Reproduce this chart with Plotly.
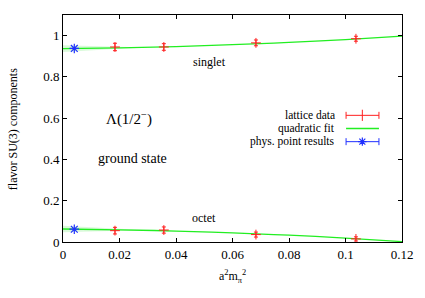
import plotly.graph_objects as go

# lattice data
lat_x = [0.0184, 0.0357, 0.0683, 0.1037]
sing_y = [0.945, 0.945, 0.965, 0.985]
sing_err = [0.018, 0.016, 0.014, 0.012]
oct_y = [0.055, 0.058, 0.036, 0.015]
oct_err = [0.016, 0.015, 0.012, 0.010]

# physical point results
phys_x = [0.0040]
phys_sing = [0.938]
phys_oct = [0.062]

# quadratic fit
fit_x = [0.0, 0.02, 0.04, 0.06, 0.08, 0.10, 0.12]
fit_sing = [0.937, 0.941, 0.947, 0.956, 0.967, 0.981, 0.998]
fit_oct = [0.063, 0.059, 0.053, 0.044, 0.033, 0.019, 0.002]

# fit uncertainty band near the physical point
band_x = [0.0, 0.01, 0.02, 0.03]
band_w = [0.016, 0.010, 0.005, 0.0]

SERIF = "Times New Roman, serif"
RED = "#ff2020"
GREEN = "#22ee22"
BLUE = "#2030ff"

fig = go.Figure()

for fy in (fit_sing, fit_oct):
    by = [fy[0] + (fy[1] - fy[0]) * bx / 0.02 for bx in band_x]
    up = [b + w for b, w in zip(by, band_w)]
    lo = [b - w for b, w in zip(by, band_w)]
    fig.add_trace(go.Scatter(x=band_x + band_x[::-1], y=up + lo[::-1], fill="toself",
                             fillcolor="rgba(150,240,150,0.35)", line=dict(width=0),
                             mode="lines", showlegend=False, hoverinfo="skip"))
    fig.add_trace(go.Scatter(x=fit_x, y=fy, mode="lines", line=dict(color=GREEN, width=1.3, shape="spline"),
                             showlegend=False))

for ly, le in ((sing_y, sing_err), (oct_y, oct_err)):
    fig.add_trace(go.Scatter(x=lat_x, y=ly, mode="markers",
                             marker=dict(symbol="cross-thin", size=7, color=RED, line=dict(color=RED, width=1)),
                             error_y=dict(type="data", array=le, color=RED, thickness=1, width=2),
                             showlegend=False))

for py in (phys_sing, phys_oct):
    fig.add_trace(go.Scatter(x=phys_x, y=py, mode="markers",
                             marker=dict(symbol="asterisk-open", size=8, color=BLUE, line=dict(color=BLUE, width=1.2)),
                             showlegend=False))

# legend samples on an overlay axis
leg_y = [0.558, 0.500, 0.442]
LX0, LX1, LXM = 0.835, 0.932, 0.883
fig.add_trace(go.Scatter(x=[LX0, LX1], y=[leg_y[0]] * 2, xaxis="x2", yaxis="y2", mode="lines",
                         line=dict(color=RED, width=1), showlegend=False))
fig.add_trace(go.Scatter(x=[LXM], y=[leg_y[0]], xaxis="x2", yaxis="y2", mode="markers",
                         marker=dict(symbol="line-ns", size=8, color=RED, line=dict(color=RED, width=1)), showlegend=False))
fig.add_trace(go.Scatter(x=[LX0, LX1], y=[leg_y[1]] * 2, xaxis="x2", yaxis="y2", mode="lines",
                         line=dict(color=GREEN, width=1.3), showlegend=False))
fig.add_trace(go.Scatter(x=[LX0, LX1], y=[leg_y[2]] * 2, xaxis="x2", yaxis="y2", mode="lines",
                         line=dict(color=BLUE, width=1), showlegend=False))
fig.add_trace(go.Scatter(x=[LXM], y=[leg_y[2]], xaxis="x2", yaxis="y2", mode="markers",
                         marker=dict(symbol="asterisk-open", size=7, color=BLUE, line=dict(color=BLUE, width=1.2)), showlegend=False))
for yy, col in ((leg_y[0], RED), (leg_y[2], BLUE)):
    for xx in (LX0, LX1):
        fig.add_trace(go.Scatter(x=[xx], y=[yy], xaxis="x2", yaxis="y2", mode="markers",
                                 marker=dict(symbol="line-ns", size=5, color=col, line=dict(color=col, width=1)),
                                 showlegend=False))

leg_txt = ["lattice data", "quadratic fit", "phys. point results"]
ann = []
for t, yy in zip(leg_txt, leg_y):
    ann.append(dict(text=t, x=0.808, y=yy, xref="paper", yref="paper", xanchor="right", yanchor="middle",
                    showarrow=False, font=dict(family=SERIF, size=11.5, color="black")))
ann += [
    dict(text="singlet", x=0.052, y=0.872, xref="x", yref="y", xanchor="center", showarrow=False,
         font=dict(family=SERIF, size=12, color="black")),
    dict(text="octet", x=0.050, y=0.118, xref="x", yref="y", xanchor="center", showarrow=False,
         font=dict(family=SERIF, size=12, color="black")),
    dict(text="Λ(1/2<sup>−</sup>)", x=0.0235, y=0.597, xref="x", yref="y", xanchor="center", showarrow=False,
         font=dict(family=SERIF, size=15, color="black")),
    dict(text="ground state", x=0.0245, y=0.403, xref="x", yref="y", xanchor="center", showarrow=False,
         font=dict(family=SERIF, size=14, color="black")),
    dict(text="flavor SU(3) components", x=-0.1475, y=0.497, xref="paper", yref="paper", textangle=-90,
         xanchor="center", yanchor="middle",
         showarrow=False, font=dict(family=SERIF, size=12, color="black")),
    dict(text="a<sup>2</sup>m<sub>π</sub><sup>2</sup>", x=0.5, y=-0.105, xref="paper", yref="paper",
         xanchor="center", yanchor="top", showarrow=False, font=dict(family=SERIF, size=12, color="black")),
]

ax_common = dict(showgrid=False, zeroline=False, ticks="inside", ticklen=4, mirror="ticks",
                 showline=True, linecolor="black", linewidth=1, tickcolor="black",
                 tickfont=dict(family=SERIF, size=13, color="black"))
fig.update_layout(
    width=425, height=298, margin=dict(l=63, r=23, t=15, b=56),
    paper_bgcolor="white", plot_bgcolor="white",
    font=dict(family=SERIF),
    xaxis=dict(range=[0, 0.12], tickvals=[0, 0.02, 0.04, 0.06, 0.08, 0.1, 0.12],
               ticktext=["0", "0.02", "0.04", "0.06", "0.08", "0.1", "0.12"], **ax_common),
    yaxis=dict(range=[0, 1.1], tickvals=[0, 0.2, 0.4, 0.6, 0.8, 1],
               ticktext=["0", "0.2", "0.4", "0.6", "0.8", "1"], **ax_common),
    xaxis2=dict(range=[0, 1], overlaying="x", visible=False, fixedrange=True),
    yaxis2=dict(range=[0, 1], overlaying="y", visible=False, fixedrange=True),
    annotations=ann, showlegend=False,
)
fig.write_html("out.html", config={"displayModeBar": False},
               post_script="document.body.style.margin='0';")
